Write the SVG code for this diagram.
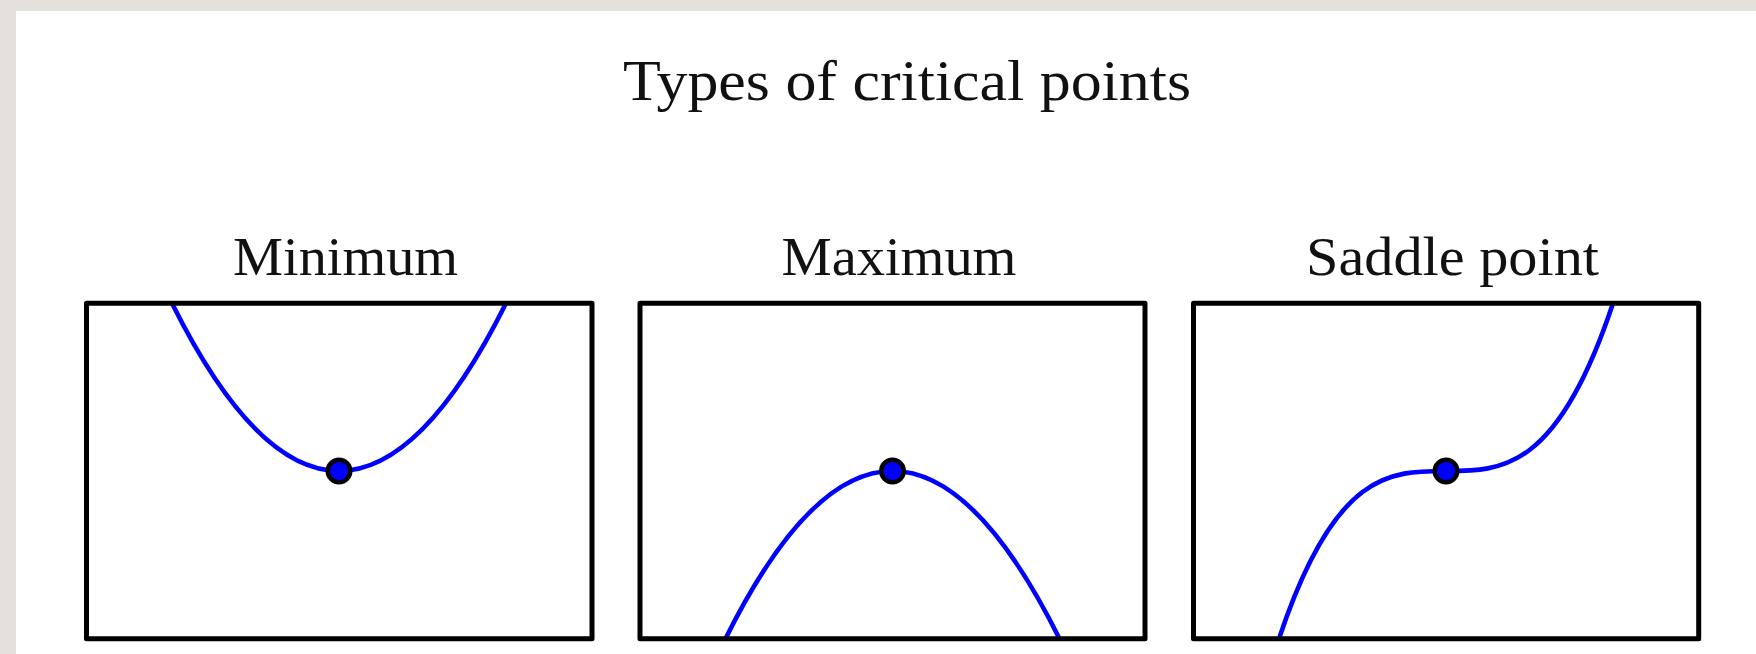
<svg xmlns="http://www.w3.org/2000/svg" width="1756" height="654" viewBox="0 0 1756 654">
  <defs>
    <style>
      .frame { fill: none; stroke: #000; stroke-width: 5; stroke-linejoin: round; }
      .curve { fill: none; stroke: #0000ff; stroke-width: 4.6; }
      .dot { fill: #0000ff; stroke: #000; stroke-width: 4.4; }
      .title { font-family: "Liberation Serif", "DejaVu Serif", serif; fill: #111; text-anchor: middle; }
    </style>
  </defs>
  <rect x="0" y="0" width="1756" height="654" fill="#e4e1dc"/>
  <rect x="16" y="11" width="1740" height="643" fill="#ffffff"/>

  <text class="title" x="907" y="100" font-size="57" textLength="568" lengthAdjust="spacingAndGlyphs">Types of critical points</text>

  <g id="panel-minimum">
    <text class="title" x="345.5" y="275" font-size="54" textLength="225" lengthAdjust="spacingAndGlyphs">Minimum</text>
    <path class="curve" d="M172,303.3 Q339,638.7 506,303.3"/>
    <circle class="dot" cx="339" cy="471" r="11.3"/>
    <rect class="frame" x="86.5" y="303.3" width="505.5" height="335.4"/>
  </g>

  <g id="panel-maximum">
    <text class="title" x="899" y="275" font-size="54" textLength="235" lengthAdjust="spacingAndGlyphs">Maximum</text>
    <path class="curve" d="M725.5,638.7 Q892.5,303.3 1059.5,638.7"/>
    <circle class="dot" cx="892.5" cy="471" r="11.3"/>
    <rect class="frame" x="640" y="303.3" width="505" height="335.4"/>
  </g>

  <g id="panel-saddle">
    <text class="title" x="1452.5" y="275" font-size="54" textLength="293" lengthAdjust="spacingAndGlyphs">Saddle point</text>
    <path class="curve" d="M1279,638.7 C1390.33,303.3 1501.67,638.7 1613,303.3"/>
    <circle class="dot" cx="1446" cy="471" r="11.3"/>
    <rect class="frame" x="1193.5" y="303.3" width="505.2" height="335.4"/>
  </g>

  <g id="connectors"/>
</svg>
